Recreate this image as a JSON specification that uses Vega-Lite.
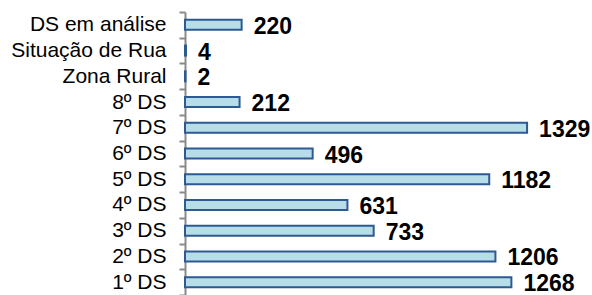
{
  "$schema": "https://vega.github.io/schema/vega-lite/v6.json",
  "width": 400,
  "height": 283,
  "autosize": "none",
  "padding": {"left": 185, "top": 12, "right": 7, "bottom": 0},
  "background": "white",
  "config": {"view": {"stroke": null}, "font": "Liberation Sans"},
  "data": {"values": [
    {"cat": "DS em análise", "v": 220},
    {"cat": "Situação de Rua", "v": 4},
    {"cat": "Zona Rural", "v": 2},
    {"cat": "8º DS", "v": 212},
    {"cat": "7º DS", "v": 1329},
    {"cat": "6º DS", "v": 496},
    {"cat": "5º DS", "v": 1182},
    {"cat": "4º DS", "v": 631},
    {"cat": "3º DS", "v": 733},
    {"cat": "2º DS", "v": 1206},
    {"cat": "1º DS", "v": 1268}
  ]},
  "encoding": {
    "y": {"field": "cat", "type": "nominal", "sort": null,
      "scale": {"paddingInner": 0, "paddingOuter": 0},
      "axis": {"title": null, "tickBand": "extent", "domainColor": "#8a8a8a", "domainWidth": 2,
        "tickColor": "#8a8a8a", "tickWidth": 2, "tickSize": 6, "labelPadding": 13,
        "labelFontSize": 21, "labelColor": "#000000", "labelFont": "Liberation Sans"}},
    "x": {"field": "v", "type": "quantitative", "scale": {"domain": [0, 1554]}, "axis": null}
  },
  "layer": [
    {"mark": {"type": "bar", "height": 10, "fill": "#b7dde8", "stroke": "#2e5a92", "strokeWidth": 2, "cornerRadius": 0}},
    {"mark": {"type": "text", "align": "left", "baseline": "middle", "dx": 12, "dy": 2, "fontSize": 23, "fontWeight": "bold", "font": "Liberation Sans", "color": "#000000"},
     "encoding": {"text": {"field": "v", "type": "quantitative"}}}
  ]
}
